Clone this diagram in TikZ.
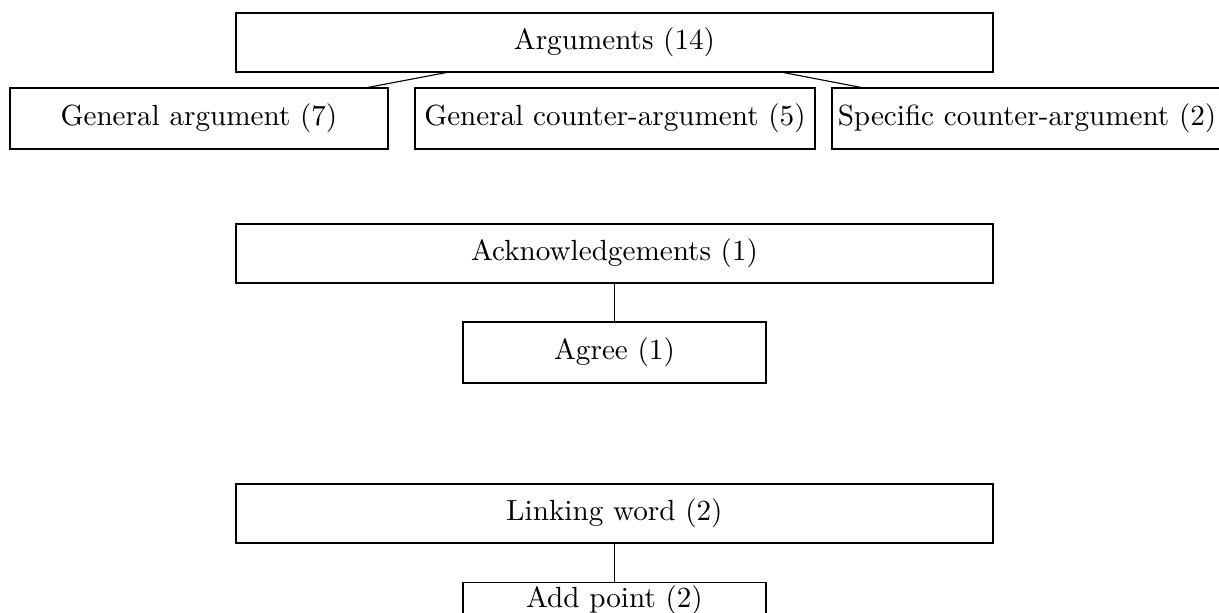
\documentclass[tikz,border=0pt]{standalone}
\usetikzlibrary{calc}
\begin{document}
\begin{tikzpicture}[x=0.36pt,y=-0.36pt,
  catbox/.style={draw, line width=0.4pt, rectangle, inner sep=0pt,
    minimum height=59*0.36pt, font=\fontsize{10.5}{12}\selectfont},
  link/.style={draw, line width=0.4pt}]
  \clip (0,0) rectangle (1219,612);
  % Arguments tree
  \node[catbox, minimum width=757*0.36pt] (args) at (614.5,42.5) {Arguments (14)};
  \node[catbox, minimum width=378*0.36pt, minimum height=61*0.36pt] (gen) at (199,118.5) {General argument (7)};
  \node[catbox, minimum width=400*0.36pt, minimum height=61*0.36pt] (gencounter) at (615,118.5) {General counter-argument (5)};
  \node[catbox, minimum width=390*0.36pt, minimum height=61*0.36pt] (speccounter) at (1027,118.5) {Specific counter-argument (2)};
  \draw[link] ($(args.south west)!0.278!(args.south east)$) -- ($(gen.north west)!0.945!(gen.north east)$);
  \draw[link] ($(args.south west)!0.723!(args.south east)$) -- ($(speccounter.north west)!0.076!(speccounter.north east)$);
  % Acknowledgements tree
  \node[catbox, minimum width=757*0.36pt] (ack) at (614.5,253.5) {Acknowledgements (1)};
  \node[catbox, minimum width=303*0.36pt, minimum height=61*0.36pt] (agree) at (614.5,352.5) {Agree (1)};
  \draw[link] (ack) -- (agree);
  % Linking word tree (its child runs past the lower edge)
  \node[catbox, minimum width=303*0.36pt, minimum height=0pt,
        text height=25*0.36pt, text depth=19*0.36pt, anchor=north] (addpoint) at (614.5,582) {Add point (2)};
  \node[catbox, minimum width=757*0.36pt] (linking) at (614.5,513.5) {Linking word (2)};
  \draw[link] (linking) -- (addpoint);
\end{tikzpicture}
\end{document}
